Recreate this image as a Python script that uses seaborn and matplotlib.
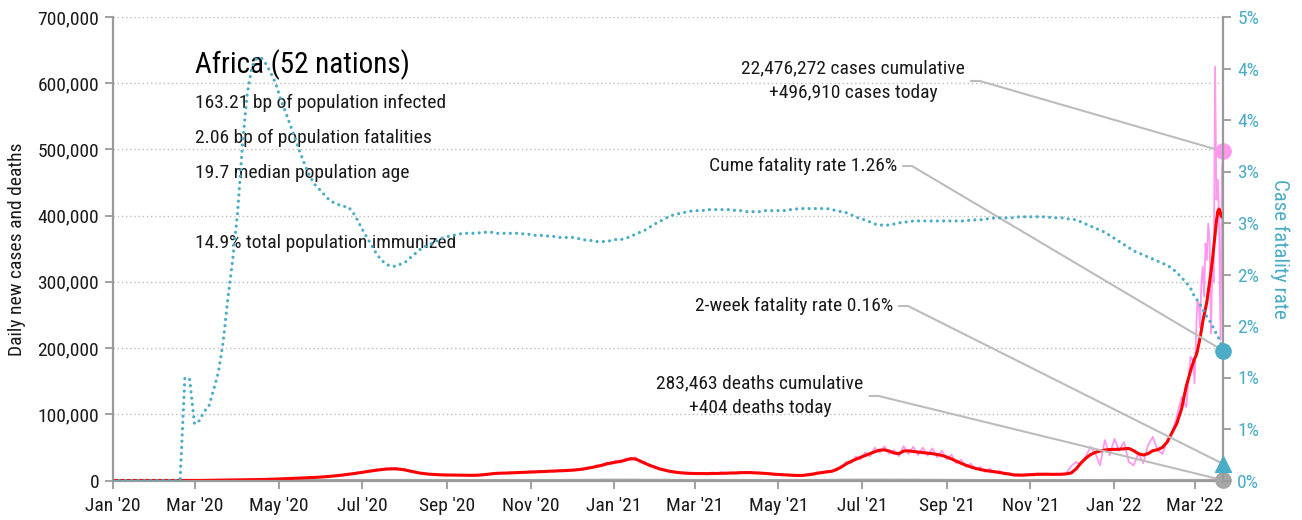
import numpy as np
import pandas as pd
import matplotlib
matplotlib.use("Agg")
import matplotlib.pyplot as plt
import matplotlib.dates as mdates
from matplotlib.ticker import FuncFormatter, MultipleLocator
from matplotlib.lines import Line2D
from matplotlib import font_manager as fm
import seaborn as sns

# ---------------------------------------------------------------- data
# Main series sampled every 3.5 days from 1 Jan 2020, then daily for the last weeks.
grid_start = "2020-01-01"
grid_step = "84h"
tail_start = "2022-02-26"
tail_end = "2022-03-22"

# Daily new cases, 7-day average (thousands)
cases_avg_k = [
    0, 0, 0, 0, 0, 0, 0, 0, 0, 0, 0, 0, 0, 0, 0,
    0.01, 0.02, 0.05, 0.1, 0.2, 0.3, 0.4, 0.5, 0.6, 0.65,
    0.7, 0.8, 0.9, 1.0, 1.1, 1.3, 1.5, 1.7, 1.9, 2.1,
    2.4, 2.7, 3.0, 3.3, 3.6, 3.9, 4.2, 4.6, 5.0, 5.5,
    6.1, 6.8, 7.5, 8.3, 9.2, 10.2, 11.2, 12.3, 13.5, 14.6,
    15.6, 16.5, 17.2, 17.6, 17.6, 17.0, 15.8, 14.2, 12.7, 11.3,
    10.3, 9.6, 9.1, 8.7, 8.4, 8.3, 8.2, 8.0, 7.9, 7.8,
    7.8, 8.0, 8.5, 9.3, 10.0, 10.8, 11.0, 11.2, 11.5, 11.8,
    12.1, 12.4, 12.7, 12.9, 13.2, 13.5, 13.8, 14.1, 14.4, 14.8,
    15.2, 15.7, 16.3, 17.2, 18.4, 19.8, 21.3, 23.0, 25.0, 26.6,
    27.8, 29.0, 30.8, 33.0, 32.5, 29.5, 26.0, 23.0, 20.2, 17.8,
    15.8, 14.2, 12.9, 12.0, 11.3, 10.9, 10.6, 10.5, 10.4, 10.4,
    10.5, 10.6, 10.8, 11.0, 11.2, 11.5, 11.8, 12.0, 11.9, 11.6,
    11.2, 10.7, 10.2, 9.5, 9.0, 8.6, 8.2, 7.8, 7.6, 7.8,
    8.5, 9.6, 11.0, 12.1, 13.0, 14.0, 16.5, 20.5, 25.0, 28.8,
    32.0, 35.0, 37.8, 40.5, 43.5, 45.8, 46.2, 44.5, 41.5, 40.5,
    44.5, 44.8, 43.8, 43.0, 42.3, 41.5, 40.5, 39.3, 37.8, 35.5,
    32.5, 29.2, 26.0, 23.0, 20.5, 18.3, 16.6, 15.2, 14.1, 13.2,
    12.0, 10.8, 9.6, 8.5, 8.1, 8.2, 8.6, 9.1, 9.4, 9.5,
    9.4, 9.3, 9.3, 9.5, 10.0, 11.5, 17.5, 26.5, 33.5, 39.0,
    42.5, 44.5, 46.0, 46.8, 47.0, 47.2, 47.8, 48.5, 45.0, 40.5,
    38.5, 40.5, 45.0, 46.5, 50.0, 58.0, 72.0, 86.0, 108.0, 143.0,
]
cases_avg_tail_k = [
    165, 172, 178, 184, 188, 195, 205, 215, 227, 240,
    250, 260, 270, 285, 300, 315, 332, 352, 372, 392,
    407, 410, 402, 398, 406,
]

# Daily new cases as reported (thousands)
cases_raw_k = [
    0, 0, 0, 0, 0, 0, 0, 0, 0, 0, 0, 0, 0, 0, 0,
    0.02, 0.03, 0.08, 0.12, 0.25, 0.3, 0.45, 0.5, 0.65, 0.6,
    0.8, 0.75, 1.0, 0.9, 1.2, 1.2, 1.7, 1.6, 2.1, 1.9,
    2.7, 2.5, 3.3, 3.0, 4.0, 3.6, 4.6, 4.3, 5.5, 5.1,
    6.8, 6.3, 8.3, 7.6, 10.2, 9.4, 12.4, 11.4, 14.9, 13.6,
    17.2, 15.2, 18.9, 16.4, 19.2, 16.0, 17.0, 13.2, 13.8, 10.5,
    11.2, 8.9, 9.9, 8.0, 9.2, 7.6, 9.0, 7.4, 8.6, 7.2,
    8.5, 7.4, 9.2, 8.6, 11.0, 9.9, 12.0, 10.4, 12.6, 10.9,
    13.2, 11.5, 13.9, 11.9, 14.4, 12.5, 15.1, 13.0, 15.8, 13.6,
    16.7, 14.5, 17.9, 15.8, 20.3, 18.2, 23.4, 21.0, 27.6, 24.4,
    30.4, 26.8, 33.6, 30.6, 35.2, 27.2, 28.4, 21.0, 22.1, 16.0,
    17.4, 12.9, 14.2, 10.9, 12.6, 9.8, 12.0, 9.4, 11.8, 9.3,
    12.4, 9.4, 13.0, 9.8, 12.6, 10.2, 13.6, 10.8, 13.2, 10.5,
    12.4, 9.6, 10.8, 8.4, 10.0, 7.8, 9.4, 7.2, 8.8, 7.0,
    10.4, 9.0, 12.4, 10.8, 14.6, 12.4, 18.8, 18.4, 28.5, 25.8,
    36.4, 31.8, 42.6, 36.5, 49.5, 42.0, 51.5, 40.5, 46.0, 36.8,
    52.0, 40.0, 51.0, 38.5, 49.5, 37.5, 48.5, 35.0, 45.0, 32.0,
    39.0, 26.0, 31.5, 20.5, 25.5, 17.0, 20.5, 13.0, 17.8, 11.5,
    15.0, 9.3, 11.5, 7.2, 9.8, 7.0, 10.2, 7.8, 11.0, 8.2,
    10.8, 8.0, 10.6, 8.3, 12.0, 22.0, 28.0, 24.0, 36.0, 51.0,
    41.0, 23.0, 61.0, 38.0, 63.0, 45.0, 58.0, 28.0, 23.0, 41.0,
    26.0, 53.0, 66.0, 46.0, 40.0, 61.0, 72.0, 96.0, 126.0, 111.0,
]
cases_raw_tail_k = [
    187, 184, 182, 147, 212, 270, 268, 232, 300, 323,
    278, 358, 333, 388, 363, 222, 323, 300, 625, 424,
    454, 380, 212, 470, 496.91,
]

# Cumulative case fatality rate (%)
cfr_pct = [
    0, 0, 0, 0, 0, 0, 0, 0, 0, 0, 0, 0, 0, 0, 0,
    1.0, 0.98, 0.55, 0.58, 0.67, 0.72, 0.88, 1.05, 1.35, 1.78,
    2.15, 2.6, 3.25, 3.75, 4.02, 4.1, 4.1, 4.04, 3.95, 3.85,
    3.7, 3.58, 3.45, 3.32, 3.19, 3.07, 2.96, 2.88, 2.83, 2.78,
    2.73, 2.70, 2.68, 2.66, 2.66, 2.61, 2.53, 2.44, 2.36, 2.28,
    2.2, 2.14, 2.10, 2.08, 2.08, 2.10, 2.12, 2.16, 2.2, 2.24,
    2.27, 2.29, 2.31, 2.34, 2.36, 2.37, 2.38, 2.39, 2.40, 2.40,
    2.40, 2.40, 2.41, 2.41, 2.41, 2.40, 2.40, 2.40, 2.40, 2.40,
    2.40, 2.39, 2.39, 2.38, 2.38, 2.38, 2.37, 2.37, 2.36, 2.36,
    2.36, 2.36, 2.35, 2.34, 2.33, 2.33, 2.32, 2.32, 2.32, 2.33,
    2.34, 2.34, 2.35, 2.37, 2.39, 2.41, 2.43, 2.46, 2.49, 2.51,
    2.54, 2.56, 2.58, 2.59, 2.60, 2.61, 2.62, 2.62, 2.62, 2.63,
    2.63, 2.63, 2.63, 2.63, 2.63, 2.62, 2.62, 2.61, 2.61, 2.61,
    2.61, 2.62, 2.62, 2.62, 2.62, 2.62, 2.63, 2.63, 2.64, 2.64,
    2.64, 2.64, 2.64, 2.64, 2.64, 2.63, 2.62, 2.61, 2.60, 2.58,
    2.56, 2.54, 2.53, 2.51, 2.49, 2.48, 2.48, 2.48, 2.49, 2.50,
    2.51, 2.51, 2.52, 2.52, 2.52, 2.52, 2.52, 2.52, 2.52, 2.52,
    2.52, 2.52, 2.52, 2.52, 2.53, 2.53, 2.53, 2.54, 2.54, 2.55,
    2.55, 2.55, 2.55, 2.55, 2.56, 2.56, 2.56, 2.56, 2.56, 2.56,
    2.56, 2.55, 2.55, 2.55, 2.54, 2.54, 2.53, 2.51, 2.49, 2.47,
    2.45, 2.43, 2.41, 2.38, 2.35, 2.32, 2.29, 2.26, 2.23, 2.21,
    2.19, 2.17, 2.15, 2.13, 2.11, 2.09, 2.06, 2.02, 1.97, 1.92,
]
cfr_tail_pct = [
    1.87, 1.84, 1.81, 1.79, 1.77, 1.75, 1.73, 1.71, 1.69, 1.66,
    1.64, 1.61, 1.59, 1.57, 1.55, 1.53, 1.50, 1.48, 1.45, 1.42,
    1.40, 1.37, 1.34, 1.30, 1.26,
]

# Daily deaths, 7-day average, at month starts
death_dates = ["2020-01-01", "2020-02-01", "2020-03-01", "2020-04-01", "2020-05-01",
               "2020-06-01", "2020-07-01", "2020-08-01", "2020-09-01", "2020-10-01",
               "2020-11-01", "2020-12-01", "2021-01-01", "2021-02-01", "2021-03-01",
               "2021-04-01", "2021-05-01", "2021-06-01", "2021-07-01", "2021-08-01",
               "2021-09-01", "2021-10-01", "2021-11-01", "2021-12-01", "2022-01-01",
               "2022-02-01", "2022-03-01", "2022-03-22"]
deaths_avg = [0, 0, 2, 30, 70, 150, 330, 330, 220, 160, 190, 380, 720, 520, 300,
              240, 210, 380, 800, 690, 430, 200, 120, 230, 300, 250, 330, 404]

region_title = "Africa (52 nations)"
facts = ["163.21 bp of population infected",
         "2.06 bp of population fatalities",
         "19.7 median population age"]
immunized = "14.9% total population immunized"

cases_cumulative = 22476272
cases_today = 496910
deaths_cumulative = 283463
deaths_today = 404
cume_fatality_pct = 1.26
two_week_fatality_pct = 0.16

# ---------------------------------------------------------------- frames
grid_dates = pd.date_range(grid_start, periods=len(cases_avg_k), freq=grid_step)
tail_dates = pd.date_range(tail_start, tail_end, freq="D")
dates = grid_dates.append(tail_dates)
df = pd.DataFrame({
    "date": dates,
    "cases_avg": np.array(cases_avg_k + cases_avg_tail_k) * 1000,
    "cases_raw": np.array(cases_raw_k + cases_raw_tail_k) * 1000,
    "cfr": np.array(cfr_pct + cfr_tail_pct),
})
deaths_df = pd.DataFrame({"date": pd.to_datetime(death_dates), "deaths": deaths_avg})
end_date = df["date"].iloc[-1]

# ---------------------------------------------------------------- style
sns.set_theme(style="white")
names = {f.name for f in fm.fontManager.ttflist}
base_font = "DejaVu Sans"
for fam in ("Liberation Sans Narrow", "Roboto Condensed", "Open Sans Condensed", "DejaVu Sans"):
    if fam in names:
        base_font = fam
        break
plt.rcParams["font.family"] = [base_font, "DejaVu Sans"]
if base_font == "DejaVu Sans":
    plt.rcParams["font.stretch"] = "condensed"

BLUE = "#4bacc6"
PINK = "#ff99ee"
RED = "#ff0000"
GREY = "#a6a6a6"
CONNECTOR = "#bcbcbc"
TXT = "#1a1a1a"

W, H = 1302, 520
fig = plt.figure(figsize=(W / 100, H / 100), dpi=100)
ax = fig.add_axes([113 / W, 1 - 480.5 / H, 1110.3 / W, 463.5 / H])
ax2 = ax.twinx()

# ---------------------------------------------------------------- left axis: cases and deaths
ax.yaxis.grid(True, linestyle=(0, (1, 2)), color="#bdbdbd", linewidth=1.0)
ax.set_axisbelow(True)
sns.lineplot(data=deaths_df, x="date", y="deaths", ax=ax, color=GREY, linewidth=2.0)
sns.lineplot(data=df, x="date", y="cases_raw", ax=ax, color=PINK, linewidth=1.3)
sns.lineplot(data=df, x="date", y="cases_avg", ax=ax, color=RED, linewidth=2.2)

ax.set_xlim(pd.Timestamp("2020-01-01"), end_date)
ax.set_ylim(0, 700000)
ax.yaxis.set_major_locator(MultipleLocator(100000))
ax.yaxis.set_major_formatter(FuncFormatter(lambda v, _: f"{int(v):,}"))
ax.xaxis.set_major_locator(mdates.MonthLocator(bymonth=[1, 3, 5, 7, 9, 11]))
ax.xaxis.set_major_formatter(mdates.DateFormatter("%b '%y"))
ax.set_xlabel("")
ax.set_ylabel("Daily new cases and deaths", fontsize=14, color=TXT, labelpad=8)

# ---------------------------------------------------------------- right axis: fatality rate
sns.lineplot(data=df, x="date", y="cfr", ax=ax2, color=BLUE, linewidth=2.3,
             linestyle=(0, (0.01, 1.95)), dash_capstyle="round")
ax2.set_ylim(0, 4.5)
ax2.yaxis.set_major_locator(MultipleLocator(0.5))
ax2.yaxis.set_major_formatter(FuncFormatter(lambda v, _: f"{int(np.floor(v + 0.5 + 1e-9))}%"))
ax2.set_ylabel("Case fatality rate", fontsize=15, color=BLUE, rotation=270, labelpad=22)
ax2.set_xlim(pd.Timestamp("2020-01-01"), end_date)

for a in (ax, ax2):
    a.spines["top"].set_visible(False)
    for side in ("left", "bottom", "right"):
        a.spines[side].set_color("#9a9a9a")
        a.spines[side].set_linewidth(1.6)
ax.spines["right"].set_visible(False)
ax2.spines["left"].set_visible(False)
ax2.spines["bottom"].set_visible(False)

ax.tick_params(axis="y", length=6, width=1.3, color="#9a9a9a", labelsize=14, labelcolor=TXT, pad=4)
ax.tick_params(axis="x", length=6, width=1.3, color="#9a9a9a", labelsize=14, labelcolor=TXT, pad=6)
ax2.tick_params(axis="y", length=6, width=1.3, color="#9a9a9a", labelsize=14, labelcolor=BLUE, pad=4)
ax.tick_params(axis="both", direction="out", left=True, bottom=True)
ax2.tick_params(axis="y", direction="out", right=True)

# ---------------------------------------------------------------- headline block
def axfrac(px, py):
    return (px - 113) / 1110.3, (480.5 - py) / 463.5

x0, y0 = axfrac(195, 65)
ax.text(x0, y0, region_title, transform=ax.transAxes, fontsize=21, color="black",
        ha="left", va="center")
for txt, py in zip(facts + [immunized], (103, 138, 173, 243)):
    x0, y0 = axfrac(195, py)
    ax.text(x0, y0, txt, transform=ax.transAxes, fontsize=14, color=TXT, ha="left", va="center")

# ---------------------------------------------------------------- callouts
callouts = [
    (f"{cases_cumulative:,} cases cumulative\n+{cases_today:,} cases today",
     axfrac(853, 81), "center", ax, cases_today, dict(marker="o", color=PINK, ms=11)),
    (f"Cume fatality rate {cume_fatality_pct:.2f}%",
     axfrac(897, 166), "right", ax2, cume_fatality_pct, dict(marker="o", color=BLUE, ms=11)),
    (f"2-week fatality rate {two_week_fatality_pct:.2f}%",
     axfrac(893, 306), "right", ax2, two_week_fatality_pct, dict(marker="^", color=BLUE, ms=11)),
    (f"{deaths_cumulative:,} deaths cumulative\n+{deaths_today:,} deaths today",
     axfrac(760, 396), "center", ax, deaths_today, dict(marker="o", color=GREY, ms=11)),
]

texts = []
for label, (tx, ty), ha, target, value, mk in callouts:
    t = ax.text(tx, ty, label, transform=ax.transAxes, fontsize=14, color=TXT,
                ha=ha, va="center", multialignment="center", linespacing=1.45)
    texts.append(t)
    target.plot([end_date], [value], linestyle="none", zorder=10, clip_on=False, **mk)

fig.canvas.draw()
renderer = fig.canvas.get_renderer()
to_axes = ax.transAxes.inverted()
for t, (label, _, ha, target, value, mk) in zip(texts, callouts):
    bb = t.get_window_extent(renderer)
    start = np.array([bb.x1 + 6, (bb.y0 + bb.y1) / 2])
    elbow = start + np.array([9, 0])
    end = target.transData.transform((mdates.date2num(end_date), value))
    pts = to_axes.transform(np.vstack([start, elbow, end]))
    ax.add_line(Line2D(pts[:, 0], pts[:, 1], transform=ax.transAxes, color=CONNECTOR,
                       linewidth=1.5, clip_on=False, zorder=3))

fig.savefig("out.png", dpi=100)
